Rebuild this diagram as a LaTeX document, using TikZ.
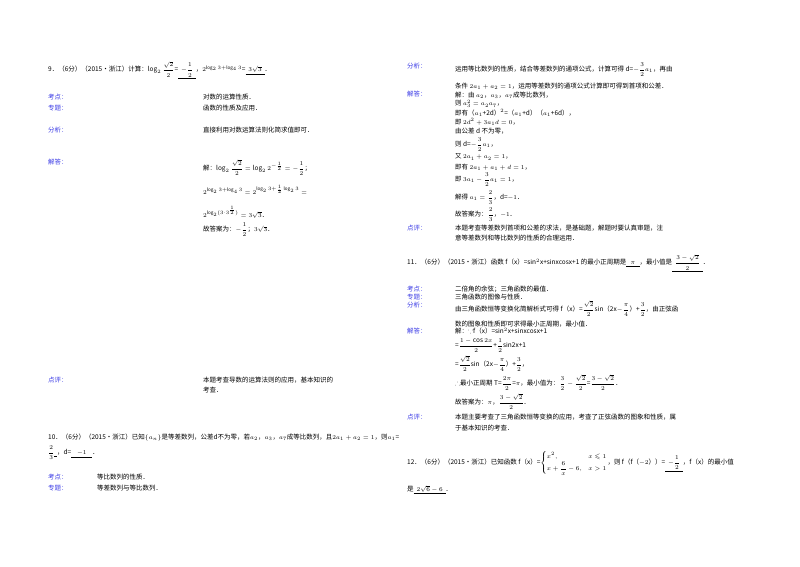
\documentclass[tikz,border=0pt]{standalone}
\usepackage{amsmath,amssymb}
\usepackage{fontspec}
\setmainfont{Noto Sans CJK SC}
\definecolor{lab}{RGB}{60,60,230}
\tikzset{txt/.style={anchor=west,inner sep=0pt,font=\fontsize{6.5}{9}\selectfont},
lbl/.style={txt,text=lab}}
\newcommand\T[3]{\node[txt] at (#1pt,-#2pt) {#3};}
\newcommand\Lb[3]{\node[lbl] at (#1pt,-#2pt) {#3};}
\newcommand\F[2]{\dfrac{#1}{#2}}
\begin{document}
\begin{tikzpicture}
\useasboundingbox[fill=white] (0,0) rectangle (800pt,-566pt);
% left column
\T{48}{70}{9．（6分）（2015•浙江）计算：$\log_2\F{\sqrt2}{2}$=\underline{\ \ $-\F12$\ \ }，$2^{\log_23+\log_43}$=\underline{\ \ $3\sqrt3$\ \ }．}
\Lb{48}{97}{考点：}\T{203}{97}{对数的运算性质．}
\Lb{48}{108}{专题：}\T{203}{108}{函数的性质及应用．}
\Lb{48}{130}{分析：}\T{203}{130}{直接利用对数运算法则化简求值即可．}
\Lb{48}{162}{解答：}
\T{203}{168}{解：$\log_2\F{\sqrt2}{2}=\log_2 2^{-\frac12}=-\F12$；}
\T{203}{190}{$2^{\log_23+\log_43}=2^{\log_23+\frac12\log_23}=$}
\T{203}{212}{$2^{\log_2(3\cdot3^{\frac12})}=3\sqrt3$．}
\T{203}{230}{故答案为：$-\F12$；$3\sqrt3$．}
\Lb{48}{380}{点评：}\T{203}{380}{本题考查导数的运算法则的应用，基本知识的}
\T{203}{390}{考查．}
\T{48}{437}{10．（6分）（2015•浙江）已知$\{a_n\}$是等差数列，公差d不为零，若$a_2$，$a_3$，$a_7$成等比数列，且$2a_1+a_2=1$，则$a_1$=}
\T{48}{453}{$\F23$\underline{\ \ }，d=\underline{\ \ \ \ $-1$\ \ \ \ }．}
\Lb{48}{477}{考点：}\T{97}{477}{等比数列的性质．}
\Lb{48}{488}{专题：}\T{97}{488}{等差数列与等比数列．}
% right column
\Lb{407}{66}{分析：}
\T{455}{70}{运用等比数列的性质，结合等差数列的通项公式，计算可得 d=$-\F32a_1$，再由}
\T{455}{86}{条件 $2a_1+a_2=1$，运用等差数列的通项公式计算即可得到首项和公差．}
\Lb{407}{94}{解答：}
\T{455}{95}{解：由 $a_2$，$a_3$，$a_7$成等比数列，}
\T{455}{104}{则 $a_3^2=a_2a_7$，}
\T{455}{113}{即有（$a_1$+2d）$^2$=（$a_1$+d）（$a_1$+6d），}
\T{455}{122}{即 $2d^2+3a_1d=0$，}
\T{455}{131}{由公差 d 不为零，}
\T{455}{145}{则 d=$-\F32a_1$，}
\T{455}{157}{又 $2a_1+a_2=1$，}
\T{455}{167}{即有 $2a_1+a_1+d=1$，}
\T{455}{180}{即 $3a_1-\F32a_1=1$，}
\T{455}{198}{解得 $a_1=\F23$，d=$-1$．}
\T{455}{215}{故答案为：$\F23$，$-1$．}
\Lb{407}{228}{点评：}\T{455}{228}{本题考查等差数列首项和公差的求法，是基础题，解题时要认真审题，注}
\T{455}{238}{意等差数列和等比数列的性质的合理运用．}
\T{407}{263}{11．（6分）（2015•浙江）函数 f（x）=$\sin^2$x+sinxcosx+1 的最小正周期是\underline{\ \ \ $\pi$\ \ \ }，最小值是\underline{\ \ $\F{3-\sqrt2}{2}$\ \ }．}
\Lb{407}{289}{考点：}\T{455}{289}{二倍角的余弦；三角函数的最值．}
\Lb{407}{297}{专题：}\T{455}{297}{三角函数的图像与性质．}
\Lb{407}{305}{分析：}\T{455}{309}{由三角函数恒等变换化简解析式可得 f（x）=$\F{\sqrt2}{2}$sin（2x$-\F\pi4$）+$\F32$，由正弦函}
\T{455}{324}{数的图象和性质即可求得最小正周期，最小值．}
\Lb{407}{331}{解答：}\T{455}{331}{解：$\because$f（x）=$\sin^2$x+sinxcosx+1}
\T{455}{346}{=$\F{1-\cos2x}{2}$+$\F12$sin2x+1}
\T{455}{364}{=$\F{\sqrt2}{2}$sin（2x$-\F\pi4$）+$\F32$，}
\T{455}{383}{$\therefore$最小正周期 T=$\F{2\pi}{2}$=$\pi$，最小值为：$\F32-\F{\sqrt2}{2}$=$\F{3-\sqrt2}{2}$．}
\T{455}{402}{故答案为：$\pi$，$\F{3-\sqrt2}{2}$．}
\Lb{407}{417}{点评：}\T{455}{417}{本题主要考查了三角函数恒等变换的应用，考查了正弦函数的图象和性质，属}
\T{455}{428}{于基本知识的考查．}
\T{407}{463}{12．（6分）（2015•浙江）已知函数 f（x）=$\begin{cases}x^2,& x\leqslant1\\ x+\F6x-6,& x>1\end{cases}$，则 f（f（$-2$））=\underline{\ \ $-\F12$\ \ }，f（x）的最小值}
\T{407}{490}{是\underline{\ \ $2\sqrt6-6$\ \ }．}
\end{tikzpicture}
\end{document}
